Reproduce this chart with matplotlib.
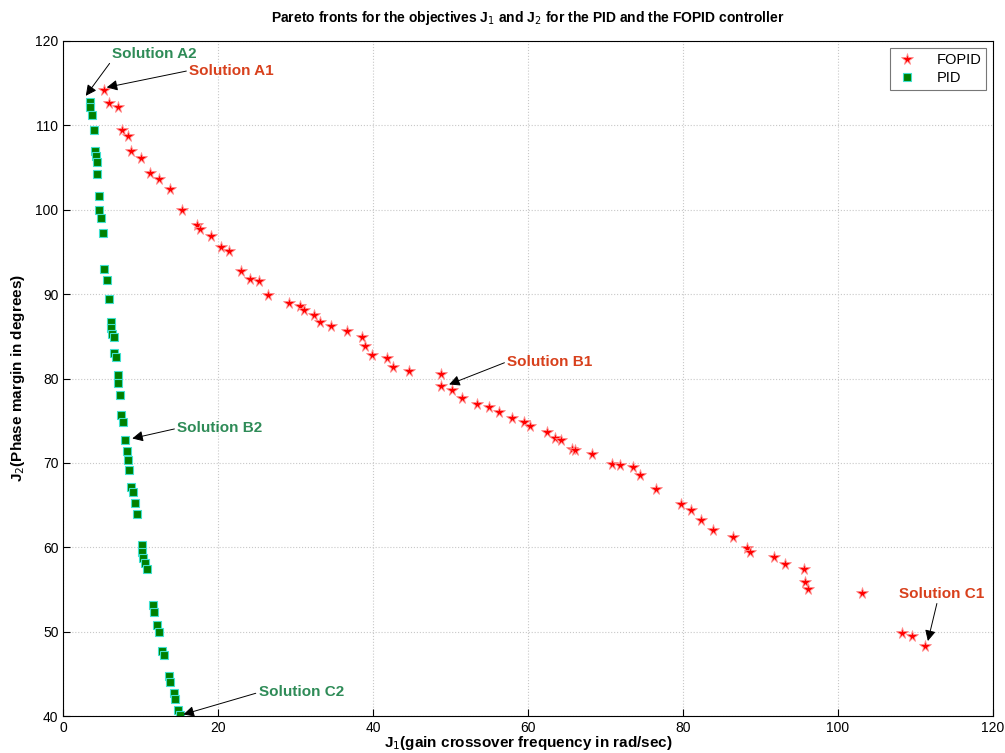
import matplotlib
matplotlib.use("Agg")
import matplotlib.pyplot as plt

plt.rcParams['font.family'] = ['Liberation Sans', 'DejaVu Sans']

# FOPID pareto front (J1, J2)
fopid_j1 = [5.2, 5.9, 7.0, 7.6, 8.3, 8.7, 10.0, 11.2, 12.4, 13.8, 15.3, 17.3, 17.6,
            19.1, 20.3, 21.4, 23.0, 24.1, 25.3, 26.4, 29.1, 30.5, 31.1, 32.4, 33.1,
            34.6, 36.6, 38.5, 39.0, 39.9, 41.8, 42.5, 44.6, 48.8, 48.8, 50.2, 51.5,
            53.4, 55.0, 56.2, 57.9, 59.5, 60.3, 62.5, 63.5, 64.3, 65.7, 66.1, 68.3,
            70.8, 71.8, 73.5, 74.5, 76.5, 79.7, 81.0, 82.3, 83.8, 86.4, 88.3, 88.6,
            91.7, 93.1, 95.6, 95.7, 96.1, 103.1, 108.3, 109.5, 111.2]
fopid_j2 = [114.2, 112.6, 112.2, 109.4, 108.7, 107.0, 106.1, 104.3, 103.7, 102.4, 100.0,
            98.2, 97.7, 96.9, 95.6, 95.1, 92.8, 91.8, 91.5, 89.9, 89.0, 88.6, 88.1,
            87.5, 86.7, 86.2, 85.6, 84.9, 83.8, 82.8, 82.4, 81.4, 80.9, 80.5, 79.1,
            78.6, 77.7, 77.0, 76.6, 76.0, 75.3, 74.8, 74.4, 73.7, 73.0, 72.7, 71.6,
            71.5, 71.0, 69.9, 69.7, 69.5, 68.6, 66.9, 65.1, 64.4, 63.2, 62.0, 61.2,
            59.9, 59.5, 58.8, 58.0, 57.4, 55.9, 55.1, 54.6, 49.9, 49.5, 48.3]

# PID pareto front (J1, J2)
pid_j1 = [3.4, 3.5, 3.7, 3.9, 4.1, 4.2, 4.3, 4.4, 4.6, 4.6, 4.9, 5.1, 5.3, 5.7, 5.9,
          6.1, 6.2, 6.3, 6.5, 6.5, 6.8, 7.0, 7.1, 7.3, 7.5, 7.7, 8.0, 8.2, 8.3, 8.5,
          8.7, 9.0, 9.2, 9.5, 10.1, 10.2, 10.3, 10.5, 10.8, 11.6, 11.7, 12.1, 12.3,
          12.8, 13.0, 13.6, 13.8, 14.3, 14.4, 14.8, 15.0]
pid_j2 = [112.8, 112.2, 111.2, 109.5, 107.0, 106.4, 105.7, 104.2, 101.6, 100.0, 99.0,
          97.3, 93.0, 91.7, 89.4, 86.7, 86.0, 85.3, 84.9, 83.0, 82.6, 80.4, 79.5, 78.0,
          75.7, 74.9, 72.7, 71.4, 70.4, 69.2, 67.2, 66.5, 65.3, 64.0, 60.3, 59.5, 58.7,
          58.1, 57.4, 53.2, 52.3, 50.8, 50.0, 47.7, 47.2, 44.7, 44.1, 42.7, 42.0, 40.7,
          40.1]

# annotations: label, text centre, arrow target, colour, where the arrow leaves the text
red_txt = '#d8401c'
green_txt = '#2e8b57'
notes = [
    ('Solution A2', (11.7, 118.5), (2.9, 113.5), green_txt, (0.0, 0.0)),
    ('Solution A1', (21.7, 116.5), (5.6, 114.5), red_txt, (0.0, 0.5)),
    ('Solution B2', (20.2, 74.1), (8.9, 72.9), green_txt, (0.0, 0.5)),
    ('Solution B1', (62.8, 82.0), (49.8, 79.3), red_txt, (0.0, 0.5)),
    ('Solution C1', (113.4, 54.5), (111.6, 48.9), red_txt, (0.45, 0.0)),
    ('Solution C2', (30.7, 42.8), (15.5, 40.2), green_txt, (0.0, 0.5)),
]

fig = plt.figure(figsize=(10.05, 7.53), dpi=100)
ax = fig.add_axes([0.063, 0.049, 0.925, 0.8966])

ax.plot(fopid_j1, fopid_j2, linestyle='none', marker='*', markersize=8.5,
        markerfacecolor='red', markeredgecolor='#ff9090', markeredgewidth=0.6, label='FOPID')
ax.plot(pid_j1, pid_j2, linestyle='none', marker='s', markersize=6,
        markerfacecolor='#008000', markeredgecolor='#40e0d0', markeredgewidth=0.8, label='PID')

for label, txt, tgt, col, rp in notes:
    ax.annotate(label, xy=tgt, xytext=txt, color=col, fontsize=11, fontweight='bold',
                ha='center', va='center',
                arrowprops=dict(arrowstyle='-|>', color='black', lw=0.7, relpos=rp,
                                mutation_scale=16, shrinkA=0, shrinkB=0))

ax.set_xlim(0, 120)
ax.set_ylim(40, 120)
ax.set_xticks(range(0, 121, 20))
ax.set_yticks(range(40, 121, 10))
ax.grid(True, linestyle=':', color='#c8c8c8', linewidth=0.8)
ax.tick_params(direction='in', labelsize=10, length=5)

ax.set_title('Pareto fronts for the objectives J$_1$ and J$_2$ for the PID and the FOPID controller',
             fontsize=10, fontweight='bold', pad=14)
ax.set_xlabel('J$_1$(gain crossover frequency in rad/sec)', fontsize=11, fontweight='bold', labelpad=-1)
ax.set_ylabel('J$_2$(Phase margin in degrees)', fontsize=11, fontweight='bold', labelpad=6)

leg = ax.legend(loc='upper right', fontsize=10.5, fancybox=False, edgecolor='#555555',
                handletextpad=1.2, handlelength=1.6, labelspacing=0.3,
                borderpad=0.35, borderaxespad=0.45)
leg.get_frame().set_linewidth(0.8)

fig.savefig('out.png', dpi=100)
